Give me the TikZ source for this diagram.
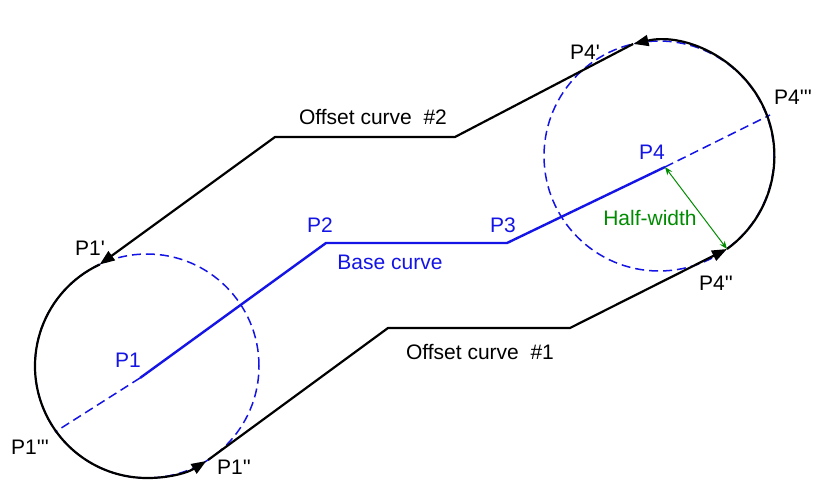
\documentclass[tikz,border=0pt]{standalone}
\usepackage{fontspec}
\setmainfont{Liberation Sans}
\usetikzlibrary{arrows.meta,calc}
\newcommand{\pq}{\textquotesingle}
\begin{document}
\begin{tikzpicture}[x=1pt,y=1pt,
  lbl/.style={font=\fontsize{21}{24}\selectfont},
  blu/.style={lbl,text={rgb,255:red,20;green,20;blue,230}},
  basec/.style={draw={rgb,255:red,20;green,20;blue,230},line width=2.4pt},
  dsh/.style={draw={rgb,255:red,20;green,20;blue,230},line width=1.5pt,dash pattern=on 9pt off 5pt},
  blk/.style={draw=black,line width=2.2pt},
  tip/.style={-{Triangle[length=15pt,width=11pt]}}]
\useasboundingbox (0,0) rectangle (820,491);
\fill[white] (0,0) rectangle (820,491);
\coordinate (c1) at (147,125);
\coordinate (c2) at (659,335);
\coordinate (P1) at (140,113);
\coordinate (P2) at (326,248);
\coordinate (P3) at (507,248);
\coordinate (P4) at (665,324);
\coordinate (P1t) at (55,59);
\coordinate (P4t) at (770,376);
\coordinate (P1a) at ($(c1)+(115:112)$);
\coordinate (P1b) at (208,31);
\coordinate (P4a) at ($(c2)+(103:115)$);
\coordinate (P4b) at (727,242);
\coordinate (o1a) at (388,163);
\coordinate (o1b) at (570,163);
\coordinate (o2a) at (455,354);
\coordinate (o2b) at (275,354);
\draw[dsh] (c1) circle (112);
\draw[dsh] (c2) circle (115);
\draw[dsh] (P1) -- (P1t);
\draw[dsh] (P4) -- (P4t);
\draw[basec] (P1) -- (P2) -- (P3) -- (P4);
\draw[blk,tip] (P1b) -- (o1a) -- (o1b) -- (P4b);
\draw[blk,tip] (P4b) arc[start angle=-54,end angle=103,radius=115];
\draw[blk,tip] (P4a) -- (o2a) -- (o2b) -- (P1a);
\draw[blk,tip] (P1a) arc[start angle=115,end angle=302,radius=112];
\draw[{Stealth[length=8pt]}-{Stealth[length=8pt]},draw={rgb,255:red,0;green,140;blue,0},line width=1pt] (P4) -- (P4b);
\node[blu] (l1) at (128,131) {P1};
\node[blu] (l2) at (320,266) {P2};
\node[blu] (l3) at (503,266) {P3};
\node[blu] (l4) at (652,339) {P4};
\node[blu] (lb) at (390,229) {Base curve};
\node[lbl] (lo2) at (373,374) {Offset curve \ \#2};
\node[lbl] (lo1) at (480,139) {Offset curve \ \#1};
\node[lbl,text={rgb,255:red,0;green,140;blue,0}] (lh) at (650,273) {Half-width};
\node[lbl] (n1) at (90,243) {P1\pq};
\node[lbl] (n2) at (30,44) {P1\pq\pq\pq};
\node[lbl] (n3) at (234,24) {P1\pq\pq};
\node[lbl] (n4) at (585,439) {P4\pq};
\node[lbl] (n5) at (793,394) {P4\pq\pq\pq};
\node[lbl] (n6) at (716,208) {P4\pq\pq};
\end{tikzpicture}
\end{document}
